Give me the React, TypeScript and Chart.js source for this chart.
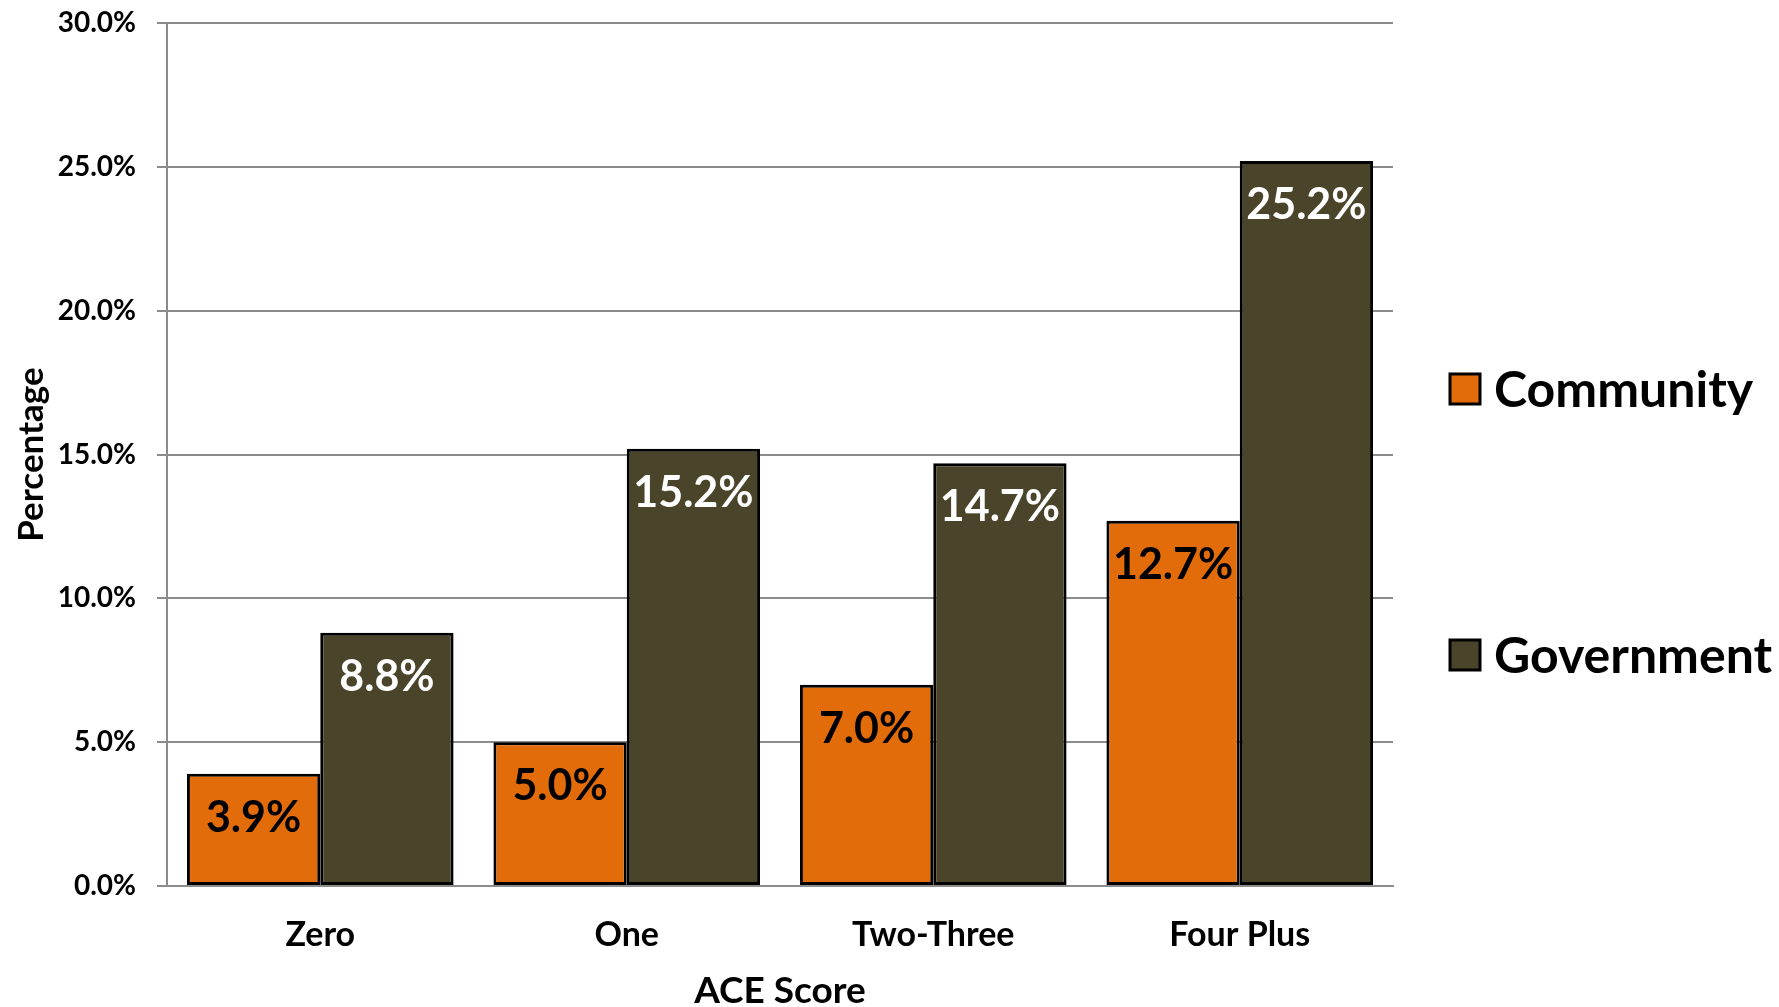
import React, { useEffect, useRef } from "react";
import { Chart, registerables } from "chart.js";

Chart.register(...registerables);

const categories = ["Zero", "One", "Two-Three", "Four Plus"];
const seriesNames = ["Community", "Government"];
const communityValues = [3.9, 5.0, 7.0, 12.7];
const governmentValues = [8.8, 15.2, 14.7, 25.2];
const yMin = 0;
const yMax = 30;
const yStep = 5;
const xTitle = "ACE Score";
const yTitle = "Percentage";

const seriesColors = ["#E36C0A", "#4A452A"];
const labelColors = ["#000000", "#FFFFFF"];
const FONT = "Lato, 'Open Sans', sans-serif";

const dataLabelPlugin = {
  id: "dataLabels",
  afterDatasetsDraw(chart: any) {
    const ctx = chart.ctx;
    ctx.save();
    ctx.font = `bold 43px ${FONT}`;
    ctx.textAlign = "center";
    ctx.textBaseline = "middle";
    chart.data.datasets.forEach((ds: any, i: number) => {
      const meta = chart.getDatasetMeta(i);
      meta.data.forEach((el: any, j: number) => {
        const v = ds.data[j] as number;
        ctx.fillStyle = labelColors[i];
        ctx.fillText(v.toFixed(1) + "%", el.x, el.y + 44);
      });
    });
    ctx.restore();
  },
};

const legendPlugin = {
  id: "customLegend",
  afterDraw(chart: any) {
    const ctx = chart.ctx;
    ctx.save();
    const boxX = 1450;
    const box = 30;
    const centers = [389, 655];
    ctx.font = `bold 50px ${FONT}`;
    ctx.textAlign = "left";
    ctx.textBaseline = "middle";
    chart.data.datasets.forEach((ds: any, i: number) => {
      const cy = centers[i];
      ctx.fillStyle = ds.backgroundColor;
      ctx.fillRect(boxX, cy - box / 2, box, box);
      ctx.lineWidth = 3;
      ctx.strokeStyle = "#000";
      ctx.strokeRect(boxX, cy - box / 2, box, box);
      ctx.fillStyle = "#000";
      ctx.fillText(ds.label, 1494, cy + 2);
    });
    ctx.restore();
  },
};

export default function App() {
  const ref = useRef<HTMLCanvasElement | null>(null);

  useEffect(() => {
    if (!ref.current) return;
    const chart = new Chart(ref.current, {
      type: "bar",
      data: {
        labels: categories,
        datasets: [
          {
            label: seriesNames[0],
            data: communityValues,
            backgroundColor: seriesColors[0],
            borderColor: "#000",
            borderWidth: 3,
            borderSkipped: false,
            barPercentage: 1.0,
            categoryPercentage: 0.87,
          },
          {
            label: seriesNames[1],
            data: governmentValues,
            backgroundColor: seriesColors[1],
            borderColor: "#000",
            borderWidth: 3,
            borderSkipped: false,
            barPercentage: 1.0,
            categoryPercentage: 0.87,
          },
        ],
      },
      options: {
        responsive: false,
        animation: false,
        layout: { padding: { top: 23, right: 386, bottom: 0, left: 0 } },
        plugins: {
          legend: { display: false },
          tooltip: { enabled: false },
          title: { display: false },
        },
        scales: {
          x: {
            grid: { display: false },
            border: { display: true, color: "#8c8c8c", width: 2 },
            ticks: {
              color: "#000",
              font: { family: FONT, size: 34, weight: "bold" },
              padding: 21,
              maxRotation: 0,
            },
            title: {
              display: true,
              text: xTitle,
              color: "#000",
              font: { family: FONT, size: 37, weight: "bold", lineHeight: 0.85 },
              padding: { top: 0, bottom: 0 },
            },
            afterFit(scale: any) {
              scale.height = 121;
            },
          },
          y: {
            min: yMin,
            max: yMax,
            ticks: {
              stepSize: yStep,
              color: "#000",
              font: { family: FONT, size: 28, weight: "bold" },
              padding: 21,
              callback: (v: any) => Number(v).toFixed(1) + "%",
            },
            grid: { color: "#8c8c8c", lineWidth: 2, tickLength: 10 },
            border: { display: true, color: "#8c8c8c", width: 2 },
            title: {
              display: true,
              text: yTitle,
              color: "#000",
              font: { family: FONT, size: 35, weight: "bold", lineHeight: 1 },
              padding: { top: 14, bottom: 0 },
            },
            afterFit(scale: any) {
              scale.width = 167;
              scale.paddingTop = 10;
              scale.paddingBottom = 10;
            },
          },
        },
      },
      plugins: [dataLabelPlugin, legendPlugin],
    });
    return () => chart.destroy();
  }, []);

  return (
    <div style={{ position: "absolute", left: 0, top: 0, width: 1779, height: 1007, background: "#fff" }}>
      <canvas ref={ref} width={1779} height={1007} style={{ display: "block" }} />
    </div>
  );
}
